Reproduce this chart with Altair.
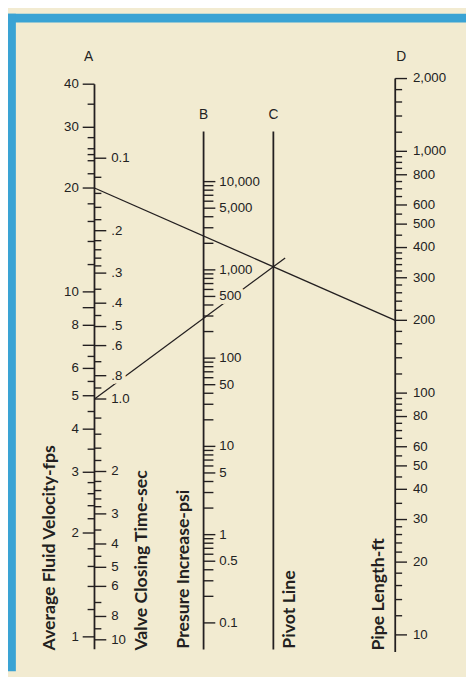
import math
import altair as alt
import pandas as pd

# Scale A (left side): Average Fluid Velocity, fps
A_LABEL_VALUES = [40, 30, 20, 10, 8, 6, 5, 4, 3, 2, 1]
A_LABELS = ["40", "30", "20", "10", "8", "6", "5", "4", "3", "2", "1"]
A_LONG_UNLABELED = [9, 7]
A_MINOR = [35, 28, 26, 25, 24, 22, 18, 16, 14, 12, 6.5, 5.5, 4.5, 3.5,
           2.8, 2.6, 2.4, 2.2, 1.8, 1.6, 1.4, 1.2]

# Scale A (right side): Valve Closing Time, sec
T_LABEL_VALUES = [0.1, 0.2, 0.3, 0.4, 0.5, 0.6, 0.8, 1.0, 2, 3, 4, 5, 6, 8, 10]
T_LABELS = ["0.1", ".2", ".3", ".4", ".5", ".6", ".8", "1.0",
            "2", "3", "4", "5", "6", "8", "10"]
T_MINOR = [0.12, 0.14, 0.16, 0.18, 0.22, 0.24, 0.26, 0.28, 0.35, 0.45, 0.7, 0.9,
           1.2, 1.4, 1.6, 1.8, 2.2, 2.4, 2.6, 2.8, 3.5, 4.5, 7, 9]

# Scale B: Pressure Increase, psi
P_LABEL_VALUES = [10000, 5000, 1000, 500, 100, 50, 10, 5, 1, 0.5, 0.1]
P_LABELS = ["10,000", "5,000", "1,000", "500", "100", "50", "10", "5", "1", "0.5", "0.1"]
P_MINOR = [9000, 8000, 7000, 6000, 4000, 3000, 2000,
           900, 800, 700, 600, 400, 300, 200,
           90, 80, 70, 60, 40, 30, 20,
           9, 8, 7, 6, 4, 3, 2,
           0.9, 0.8, 0.7, 0.6, 0.4, 0.3, 0.2]

# Scale D: Pipe Length, ft
L_LABEL_VALUES = [2000, 1000, 800, 600, 500, 400, 300, 200, 100, 80, 60, 50, 40, 30, 20, 10]
L_LABELS = ["2,000", "1,000", "800", "600", "500", "400", "300", "200",
            "100", "80", "60", "50", "40", "30", "20", "10"]
L_MINOR = [1800, 1600, 1400, 1200,
           950, 900, 850, 750, 700, 650, 550, 450,
           380, 360, 340, 320, 280, 260, 240, 220,
           180, 160, 140, 120,
           95, 90, 85, 75, 70, 65, 55, 45, 35,
           28, 26, 24, 22, 18, 16, 14, 12]

# Worked example drawn on the nomograph
EXAMPLE_VELOCITY = 20     # fps on A
EXAMPLE_LENGTH = 200      # ft on D
EXAMPLE_TIME = 1.0        # sec on A (right side)

# Axis extents (value ranges of the drawn scale lines)
A_EXTENT = (0.92, 40)
P_EXTENT = (0.05, 37000)
L_EXTENT = (8.5, 2000)

TITLES = ["Average Fluid Velocity-fps", "Valve Closing Time-sec",
          "Presure Increase-psi", "Pivot Line", "Pipe Length-ft"]
LETTERS = ["A", "B", "C", "D"]

# ---------------- nomograph geometry (scale equations) ----------------
COL_X = {"A": 96, "B": 207, "C": 278, "D": 402}
# position = offset + modulus * log10(value)
SCALE_EQ = {"A": (642.0, -351.0), "T": (400.0, 245.0),
            "B": (538.0, -89.8), "D": (886.0, -246.0)}


def pos(scale, v):
    o, m = SCALE_EQ[scale]
    return o + m * math.log10(v)


INK = "#231F20"
TEXT = "#222222"
BEIGE = "#F2EBD1"
BLUE = "#3AA3D4"
LABEL_FONT = "Liberation Sans"
TITLE_FONT = "Lato"

W, H = 466, 669
X = lambda f: alt.X(f, type="quantitative", scale=alt.Scale(domain=[8, 474], nice=False, zero=False), axis=None)
Y = lambda f: alt.Y(f, type="quantitative", scale=alt.Scale(domain=[8, 677], nice=False, zero=False, reverse=True), axis=None)


def tick_df(scale, col, values, labels=None):
    rows = []
    for i, v in enumerate(values):
        rows.append({"x": COL_X[col], "y": pos(scale, v), "value": v,
                     "label": labels[i] if labels else ""})
    return pd.DataFrame(rows)


def ticks(df, offset, width=1.4):
    return alt.Chart(df).mark_rule(color=INK, strokeWidth=width, x2Offset=offset).encode(
        x=X("x"), x2=alt.X2("x"), y=Y("y"))


def labels(df, align, dx, halo=0):
    kw = dict(align=align, baseline="middle", dx=dx, font=LABEL_FONT, fontSize=13.5)
    if halo:
        m = alt.Chart(df).mark_text(color=BEIGE, fill=BEIGE, stroke=BEIGE, strokeWidth=halo,
                                    strokeJoin="round", **kw)
    else:
        m = alt.Chart(df).mark_text(color=TEXT, **kw)
    return m.encode(x=X("x"), y=Y("y"), text="label:N")


a_major = tick_df("A", "A", A_LABEL_VALUES, A_LABELS)
a_long = tick_df("A", "A", A_LONG_UNLABELED)
a_minor = tick_df("A", "A", A_MINOR)
t_major = tick_df("T", "A", T_LABEL_VALUES, T_LABELS)
t_minor = tick_df("T", "A", T_MINOR)
p_major = tick_df("B", "B", P_LABEL_VALUES, P_LABELS)
p_minor = tick_df("B", "B", P_MINOR)
l_major = tick_df("D", "D", L_LABEL_VALUES, L_LABELS)
l_minor = tick_df("D", "D", L_MINOR)

axes_df = pd.DataFrame([
    {"x": COL_X["A"], "y1": pos("A", A_EXTENT[1]), "y2": pos("A", A_EXTENT[0])},
    {"x": COL_X["B"], "y1": pos("B", P_EXTENT[1]), "y2": pos("B", P_EXTENT[0])},
    {"x": COL_X["C"], "y1": pos("B", P_EXTENT[1]), "y2": pos("B", P_EXTENT[0])},
    {"x": COL_X["D"], "y1": pos("D", L_EXTENT[1]), "y2": pos("D", L_EXTENT[0])},
])

# Example lines: A(velocity) -> D(length); valve time -> pivot on C (slightly beyond)
ax, ay = COL_X["A"], pos("A", EXAMPLE_VELOCITY)
dx_, dy_ = COL_X["D"], pos("D", EXAMPLE_LENGTH)
cx = COL_X["C"]
cy = ay + (dy_ - ay) * (cx - ax) / (dx_ - ax)
tx, ty = COL_X["A"], pos("T", EXAMPLE_TIME)
ext = 12
ex = cx + ext
ey = ty + (cy - ty) * (ex - tx) / (cx - tx)
lines_df = pd.DataFrame([
    {"line": "1", "i": 0, "x": ax, "y": ay},
    {"line": "1", "i": 1, "x": dx_, "y": dy_},
    {"line": "2", "i": 0, "x": tx, "y": ty},
    {"line": "2", "i": 1, "x": ex, "y": ey},
])

letters_df = pd.DataFrame({
    "t": LETTERS,
    "x": [COL_X["A"] - 6, COL_X["B"], COL_X["C"], COL_X["D"] + 6],
    "y": [52, 111, 111, 52],
})
titles_df = pd.DataFrame({
    "t": TITLES,
    "x": [COL_X["A"] - 45, COL_X["A"] + 48, COL_X["B"] - 20, COL_X["C"] + 17, COL_X["D"] - 16],
    "y": [656, 656, 654, 654, 656],
})

# ---------------- decoration (frame) ----------------
frame = [
    alt.Chart().mark_rect(color=BLUE).encode(x=alt.value(0), x2=alt.value(W), y=alt.value(0), y2=alt.value(9)),
    alt.Chart().mark_rect(color=BLUE).encode(x=alt.value(0), x2=alt.value(8), y=alt.value(0), y2=alt.value(H)),
]

axis_lines = alt.Chart(axes_df).mark_rule(color=INK, strokeWidth=1.8).encode(
    x=X("x"), y=Y("y1"), y2=alt.Y2("y2"))

example = alt.Chart(lines_df).mark_line(color=INK, strokeWidth=1.3).encode(
    x=X("x"), y=Y("y"), detail="line:N", order="i:Q")

letters = alt.Chart(letters_df).mark_text(font=LABEL_FONT, fontSize=14, color=TEXT,
                                          align="center", baseline="middle").encode(
    x=X("x"), y=Y("y"), text="t:N")

titles = alt.Chart(titles_df).mark_text(font=TITLE_FONT, fontSize=18, fontWeight="bold",
                                        color=INK, angle=270, align="left",
                                        baseline="middle").encode(
    x=X("x"), y=Y("y"), text="t:N")

layers = frame + [
    axis_lines,
    ticks(a_major, -12), ticks(a_long, -12), ticks(a_minor, -7),
    ticks(t_major, 12), ticks(t_minor, 7),
    ticks(p_major, 12), ticks(p_minor, 10),
    ticks(l_major, 12), ticks(l_minor, 7),
    example,
    labels(a_major, "right", -16, 5), labels(t_major, "left", 17, 8),
    labels(p_major, "left", 16, 8), labels(l_major, "left", 18, 5),
    labels(a_major, "right", -16), labels(t_major, "left", 17),
    labels(p_major, "left", 16), labels(l_major, "left", 18),
    letters, titles,
]

chart = alt.layer(*layers).properties(
    width=W, height=H,
    autosize=alt.AutoSizeParams(type="none"),
    padding=0,
    background=BEIGE,
).configure_view(stroke=None)

chart.save("out.html", embed_options={"renderer": "svg", "actions": False})
